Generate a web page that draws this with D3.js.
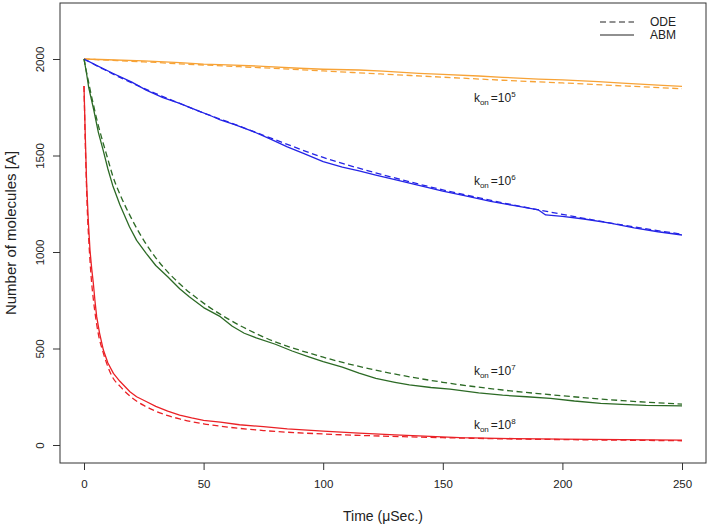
<!DOCTYPE html>
<html>
<head>
<meta charset="utf-8">
<script src="https://cdn.jsdelivr.net/npm/d3@7"></script>
<style>
  html, body { margin: 0; padding: 0; background: #fff; }
  svg text { font-family: "Liberation Sans", Arial, Helvetica, sans-serif; fill: #222; }
</style>
</head>
<body>
<div id="chart"></div>
<script>
// ODE time grid (µSec.) and curves for each k_on
var odeTime = [0, 0.5, 1, 1.5, 2, 3, 4, 5, 6, 8, 10, 12, 15, 20, 25, 30, 40, 50, 60, 75, 100, 125, 150, 175, 200, 225, 250];
var odeK5 = [2000, 2000, 1999, 1999, 1999, 1998, 1998, 1997, 1996, 1995, 1994, 1993, 1991, 1988, 1985, 1982, 1975, 1969, 1963, 1954, 1938, 1922, 1906, 1890, 1876, 1861, 1846];
var odeK6 = [2000, 1997, 1993, 1990, 1987, 1980, 1974, 1967, 1961, 1948, 1936, 1923, 1905, 1876, 1848, 1821, 1770, 1720, 1675, 1605, 1490, 1400, 1322, 1255, 1195, 1140, 1092];
var odeK7 = [2000, 1970, 1935, 1905, 1875, 1815, 1760, 1705, 1655, 1565, 1480, 1395, 1300, 1170, 1060, 970, 835, 735, 655, 560, 455, 380, 325, 285, 255, 230, 212];
var odeK8 = [1860, 1580, 1360, 1180, 1060, 870, 745, 650, 575, 480, 405, 350, 305, 245, 205, 175, 135, 110, 93, 75, 57, 46, 38, 32, 28, 25, 22];

// ABM runs (stochastic, own sampling times)
var abmTimeK5 = [0, 10, 25, 40, 50, 60, 75, 90, 100, 115, 125, 140, 150, 165, 175, 190, 200, 215, 225, 240, 250];
var abmK5 = [2000, 1996, 1990, 1981, 1973, 1970, 1962, 1952, 1947, 1943, 1937, 1926, 1920, 1912, 1905, 1896, 1892, 1883, 1875, 1865, 1858];
var abmTimeK6 = [0, 5, 12, 20, 26, 33, 40, 47, 53, 57, 63, 70, 78, 85, 92, 100, 108, 115, 122, 130, 140, 150, 160, 170, 180, 190, 193, 200, 209, 220, 230, 240, 250];
var abmK6 = [2000, 1968, 1926, 1880, 1839, 1800, 1770, 1735, 1706, 1684, 1660, 1628, 1585, 1545, 1510, 1468, 1440, 1420, 1398, 1375, 1345, 1315, 1290, 1262, 1240, 1218, 1192, 1185, 1171, 1150, 1125, 1105, 1088];
var abmTimeK7 = [0, 1, 2, 4, 6, 8, 10, 12, 15, 19, 22, 26, 30, 35, 40, 44, 50, 57, 62, 67, 72, 80, 87, 94, 100, 108, 115, 122, 130, 136, 145, 153, 165, 175, 185, 195, 205, 216, 225, 235, 250];
var abmK7 = [2000, 1930, 1850, 1740, 1620, 1528, 1430, 1345, 1245, 1131, 1060, 993, 930, 872, 810, 768, 712, 665, 615, 579, 555, 522, 487, 457, 432, 404, 372, 345, 325, 311, 298, 290, 270, 258, 250, 242, 228, 216, 210, 205, 203];
var abmTimeK8 = [0, 0.5, 1.1, 1.8, 2.5, 3.2, 3.9, 4.6, 5.3, 6.5, 8.1, 10, 12.3, 15, 19.2, 22, 26.2, 30, 35, 40, 45, 50, 57, 65, 75, 85, 100, 115, 130, 157, 180, 200, 225, 250];
var abmK8 = [1860, 1620, 1356, 1160, 1010, 915, 838, 745, 665, 580, 492, 425, 371, 330, 276, 250, 224, 200, 175, 155, 140, 128, 118, 105, 95, 84, 72, 62, 52, 38, 33, 30, 28, 25];

var xTicks = [0, 50, 100, 150, 200, 250];
var yTicks = [0, 500, 1000, 1500, 2000];
var kExponents = ["5", "6", "7", "8"];
var seriesColors = ["#f7a337", "#2424e6", "#2c6a25", "#ea2126"];
var labelPos = [[163, 1798], [163, 1368], [163, 383], [163, 104]];

var width = 709, height = 526;
var box = { left: 60, right: 706, top: 3, bottom: 463 };

var x = d3.scaleLinear().domain([0, 250]).range([84, 682]);
var y = d3.scaleLinear().domain([0, 2000]).range([445, 59]);

var svg = d3.select("#chart").append("svg")
  .attr("width", width)
  .attr("height", height);

svg.append("defs").append("clipPath").attr("id", "plotclip")
  .append("rect")
  .attr("x", box.left).attr("y", box.top)
  .attr("width", box.right - box.left).attr("height", box.bottom - box.top);

var zip = function (ts, vs) { return ts.map(function (t, i) { return [t, vs[i]]; }); };

var odeLine = d3.line()
  .x(function (d) { return x(d[0]); })
  .y(function (d) { return y(d[1]); })
  .curve(d3.curveMonotoneX);
var abmLine = d3.line()
  .x(function (d) { return x(d[0]); })
  .y(function (d) { return y(d[1]); });

var odeSeries = [odeK5, odeK6, odeK7, odeK8];
var abmSeries = [[abmTimeK5, abmK5], [abmTimeK6, abmK6], [abmTimeK7, abmK7], [abmTimeK8, abmK8]];

var plot = svg.append("g").attr("clip-path", "url(#plotclip)");

abmSeries.forEach(function (s, i) {
  plot.append("path")
    .attr("d", abmLine(zip(s[0], s[1])))
    .style("fill", "none")
    .style("stroke", seriesColors[i])
    .style("stroke-width", 1.3)
    .style("stroke-linejoin", "round");
});

odeSeries.forEach(function (vals, i) {
  plot.append("path")
    .attr("d", odeLine(zip(odeTime, vals)))
    .style("fill", "none")
    .style("stroke", seriesColors[i])
    .style("stroke-width", 1.3)
    .style("stroke-dasharray", "6,3.5");
});

// box
svg.append("rect")
  .attr("x", box.left).attr("y", box.top)
  .attr("width", box.right - box.left).attr("height", box.bottom - box.top)
  .style("fill", "none")
  .style("stroke", "#333")
  .style("stroke-width", 1);

// axes
var xAxis = svg.append("g").attr("transform", "translate(0," + box.bottom + ")")
  .call(d3.axisBottom(x).tickValues(xTicks).tickSize(7).tickPadding(10));
var yAxis = svg.append("g").attr("transform", "translate(" + box.left + ",0)")
  .call(d3.axisLeft(y).tickValues(yTicks).tickFormat(d3.format("d")).tickSize(7).tickPadding(8));

[xAxis, yAxis].forEach(function (a) {
  a.select(".domain").remove();
  a.selectAll("line").style("stroke", "#333");
  a.selectAll("text")
    .style("font-size", "11.5px")
    .style("font-family", "'Liberation Sans', Arial, sans-serif")
    .style("fill", "#222");
});

yAxis.selectAll("text")
  .attr("x", null).attr("dy", null)
  .attr("text-anchor", "middle")
  .attr("transform", "translate(-16,0) rotate(-90)");

svg.append("text")
  .attr("x", x(125)).attr("y", 521)
  .attr("text-anchor", "middle")
  .style("font-size", "14px")
  .text("Time (\u03bcSec.)");

svg.append("text")
  .attr("transform", "translate(16," + ((box.top + box.bottom) / 2) + ") rotate(-90)")
  .attr("text-anchor", "middle")
  .style("font-size", "15px")
  .text("Number of molecules [A]");

// legend
var legend = svg.append("g");
[["ODE", "6,3.5", 22], ["ABM", null, 35]].forEach(function (d) {
  legend.append("line")
    .attr("x1", 600).attr("x2", 634)
    .attr("y1", d[2]).attr("y2", d[2])
    .style("stroke", "#222")
    .style("stroke-width", 1.2)
    .style("stroke-dasharray", d[1]);
  legend.append("text")
    .attr("x", 650).attr("y", d[2] + 4)
    .style("font-size", "12px")
    .text(d[0]);
});

// k_on annotations
kExponents.forEach(function (e, i) {
  var t = svg.append("text")
    .attr("x", x(labelPos[i][0]))
    .attr("y", y(labelPos[i][1]) + 4)
    .style("font-size", "12px");
  t.append("tspan").text("k");
  t.append("tspan").attr("dy", 3).style("font-size", "8px").text("on");
  t.append("tspan").attr("dy", -3).attr("dx", 2).text("=10");
  t.append("tspan").attr("dy", -5).style("font-size", "8px").text(e);
});
</script>
</body>
</html>
